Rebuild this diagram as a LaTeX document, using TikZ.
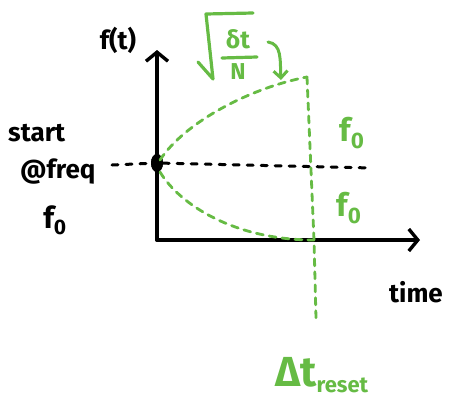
\documentclass[tikz,border=0pt]{standalone}
\usepackage{fontspec}
\setmainfont{Fira Sans}
\usetikzlibrary{arrows.meta,shapes.geometric}
\definecolor{pen}{HTML}{66BB44}
\begin{document}
\begin{tikzpicture}[x=1pt,y=-1pt,
  axis/.style={line width=3.6pt,line cap=round,-{Straight Barb[length=9pt,width=22pt,line width=3.4pt]}},
  bdash/.style={line width=3pt,line cap=round,dash pattern=on 6pt off 8pt},
  gdash/.style={pen,line width=2.8pt,line cap=round,dash pattern=on 7pt off 6pt},
  gpen/.style={pen,line width=3.2pt,line cap=round,line join=round},
  lbl/.style={font=\bfseries\fontsize{26}{28}\selectfont,inner sep=0pt},
  glbl/.style={lbl,text=pen,font=\bfseries\fontsize{32}{34}\selectfont},
  dotstyle/.style={ellipse,fill=black,minimum width=12pt,minimum height=18pt,inner sep=0pt}]
\useasboundingbox (0,0) rectangle (451,408);
\coordinate (O) at (157,240);
\coordinate (Ytop) at (157,50);
\coordinate (Xend) at (420,240);
\coordinate (hl) at (112,165);
\coordinate (hr) at (372,168);
\coordinate (peak) at (307,77);
\coordinate (floor) at (314,240);
\coordinate (reset) at (316,318);
\coordinate (arrS) at (268,42);
\coordinate (arrE) at (281,80);
% axes
\draw[axis] (O) -- (Ytop);
\draw[axis] (O) -- (Xend);
% dashed black line
\node[dotstyle] (start) at (157,163) {};
\draw[bdash] (hl) -- (start);
\draw[bdash] (start) -- (hr);
\node[dotstyle] at (157,163) {};
% green curves
\draw[gdash] (160,160) .. controls (185,122) and (250,88) .. (peak);
\draw[gdash] (160,172) .. controls (180,205) and (235,240) .. (floor);
\draw[gdash] (peak) -- (floor) -- (reset);
\draw[pen,line width=3pt,line cap=round,-{Straight Barb[length=7pt,width=14pt,line width=3pt]}] (arrS) .. controls (282,44) and (280,60) .. (arrE);
% square root
\coordinate (r1) at (198,62);
\coordinate (r2) at (213,79);
\coordinate (r3) at (206,14);
\coordinate (r4) at (253,13);
\draw[gpen] (r1) -- (r2) -- (r3) -- (r4);
\node[text=pen,inner sep=0pt,font=\bfseries\fontsize{25}{27}\selectfont] (num) at (238,39) {δt};
\coordinate (fl) at (222,58);
\coordinate (fr) at (257,57);
\draw[gpen] (fl) -- (fr);
\node[text=pen,inner sep=0pt,font=\bfseries\fontsize{23}{25}\selectfont] (den) at (238,72) {N};
% labels
\node[lbl] (ft) at (118,40) {f(t)};
\node[lbl,anchor=west] (l1) at (8,133) {start};
\node[lbl,anchor=west] (l2) at (20,172) {@freq};
\node[lbl,font=\bfseries\fontsize{30}{32}\selectfont] (l3) at (55,220) {f\textsubscript{0}};
\node[lbl] (time) at (416,292) {time};
\node[glbl] (f1) at (352,133) {f\textsubscript{0}};
\node[glbl] (f2) at (349,208) {f\textsubscript{0}};
\node[text=pen,inner sep=0pt,font=\bfseries\fontsize{42}{44}\selectfont] (dt) at (322,375) {Δt\textsubscript{\fontsize{22}{24}\selectfont reset}};
\end{tikzpicture}
\end{document}
